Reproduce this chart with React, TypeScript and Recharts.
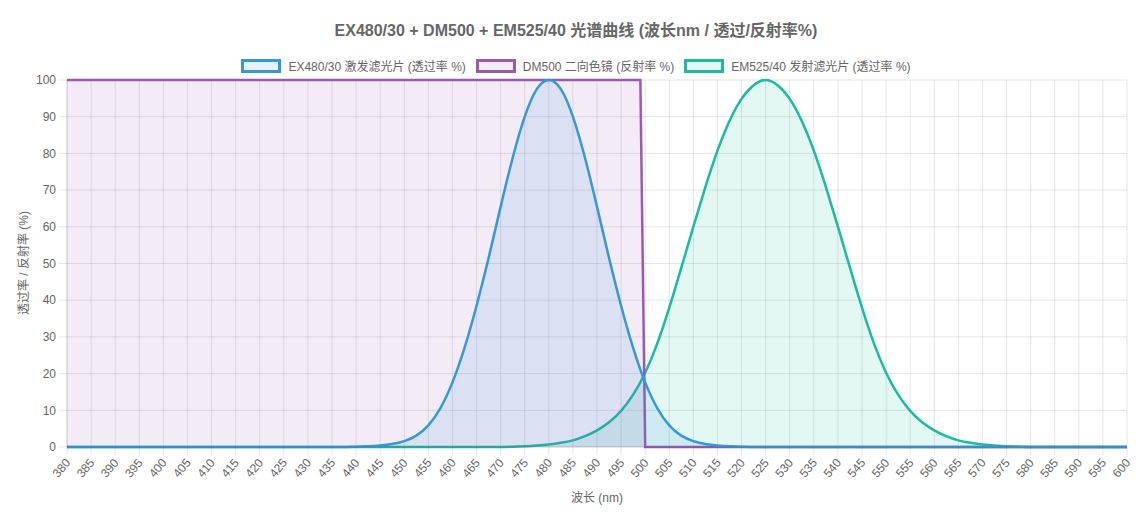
import { ComposedChart, Area, XAxis, YAxis, CartesianGrid } from 'recharts'

// EX480/30 激发滤光片 透过率 %
const exWavelengths = [
  380, 390, 400, 410, 420, 430, 435, 437.5, 440, 442.5, 445, 447.5,
  450, 452.5, 455, 457.5, 460, 462.5, 465, 467.5, 470, 472.5, 475, 477.5, 480, 482.5,
  485, 487.5, 490, 492.5, 495, 497.5, 500, 502.5, 505, 507.5, 510, 512.5, 515, 517.5,
  520, 522.5, 525, 530, 540, 550, 560, 570, 580, 590, 600,
]
const exValues = [
  0, 0, 0, 0, 0, 0, 0, 0, 0.1, 0.2, 0.4, 0.8,
  1.6, 3.1, 5.9, 10.6, 17.6, 27, 38.5, 51.5, 65.5, 78.8, 90, 97.5, 100, 97.5,
  90, 78.8, 65.5, 51.5, 38.5, 27, 17.6, 10.6, 5.9, 3.1, 1.6, 0.8, 0.4, 0.2,
  0.1, 0, 0, 0, 0, 0, 0, 0, 0, 0, 0,
]

// EM525/40 发射滤光片 透过率 %
const emWavelengths = [
  380, 390, 400, 410, 420, 430, 440, 450, 460, 465, 470, 472.5, 475, 477.5,
  480, 482.5, 485, 487.5, 490, 492.5, 495, 497.5, 500, 502.5, 505, 507.5, 510, 512.5,
  515, 517.5, 520, 522.5, 525, 527.5, 530, 532.5, 535, 537.5, 540, 542.5, 545, 547.5,
  550, 552.5, 555, 557.5, 560, 562.5, 565, 567.5, 570, 572.5, 575, 577.5, 580, 585,
  590, 595, 600,
]
const emValues = [
  0, 0, 0, 0, 0, 0, 0, 0, 0, 0, 0, 0.1, 0.2, 0.4,
  0.7, 1.15, 1.8, 2.95, 4.55, 6.75, 9.85, 14.25, 20.25, 28.15, 37.95, 48.85, 60.05, 70.85,
  80.75, 88.85, 94.85, 98.55, 100, 98.55, 94.85, 88.85, 80.75, 70.85, 60.05, 48.85, 37.95, 28.15,
  20.25, 14.25, 9.85, 6.75, 4.55, 2.95, 1.8, 1.15, 0.7, 0.4, 0.2, 0.1, 0, 0,
  0, 0, 0,
]

// DM500 二向色镜 反射率 %
const dmWavelengths = [380, 499, 500, 600]
const dmValues = [100, 100, 0, 0]

const xTicks = [
  380, 385, 390, 395, 400, 405, 410, 415, 420, 425, 430, 435, 440, 445, 450,
  455, 460, 465, 470, 475, 480, 485, 490, 495, 500, 505, 510, 515, 520, 525,
  530, 535, 540, 545, 550, 555, 560, 565, 570, 575, 580, 585, 590, 595, 600,
]
const yTicks = [0, 10, 20, 30, 40, 50, 60, 70, 80, 90, 100]

const FONT = "'Helvetica Neue', Helvetica, Arial, 'Liberation Sans', 'Noto Sans CJK SC', sans-serif"
const GRID = 'rgba(0,0,0,0.1)'

const series = [
  { name: 'EX480/30 激发滤光片 (透过率 %)', color: '#3498db', fill: 'rgba(52,152,219,0.12)' },
  { name: 'DM500 二向色镜 (反射率 %)', color: '#9b59b6', fill: 'rgba(155,89,182,0.12)' },
  { name: 'EM525/40 发射滤光片 (透过率 %)', color: '#1abc9c', fill: 'rgba(26,188,156,0.12)' },
]

const XTick = (props: any) => {
  const { x, y, payload } = props
  const ax = x + 4
  const ay = y + 6
  return (
    <text x={ax} y={ay} transform={`rotate(-50, ${ax}, ${ay})`} textAnchor="end" fill="#666" fontSize={12} fontFamily={FONT}>
      {payload.value}
    </text>
  )
}

export default function App() {
  const exData = exWavelengths.map((nm, i) => ({ nm, v: exValues[i] }))
  const emData = emWavelengths.map((nm, i) => ({ nm, v: emValues[i] }))
  const dmData = dmWavelengths.map((nm, i) => ({ nm, v: dmValues[i] }))

  return (
    <div style={{ position: 'absolute', left: 0, top: 0, width: 1145, height: 516, background: '#fff', fontFamily: FONT }}>
      <div style={{ position: 'absolute', left: 0, width: 1152, top: 17, textAlign: 'center', fontWeight: 'bold', fontSize: 16, color: '#666' }}>
        EX480/30 + DM500 + EM525/40 光谱曲线 (波长nm / 透过/反射率%)
      </div>
      <div style={{ position: 'absolute', left: 0, width: 1152, top: 57, display: 'flex', justifyContent: 'center', fontSize: 12, color: '#666' }}>
        {series.map((s) => (
          <div key={s.name} style={{ display: 'flex', alignItems: 'center', margin: '0 5px' }}>
            <span style={{ display: 'inline-block', width: 34, height: 8, border: `3px solid ${s.color}`, background: s.fill, marginRight: 7 }} />
            <span>{s.name}</span>
          </div>
        ))}
      </div>
      <div style={{ position: 'absolute', left: 22, top: 263, fontSize: 12, color: '#666', transform: 'translate(-50%, -50%) rotate(-90deg)', whiteSpace: 'nowrap' }}>
        透过率 / 反射率 (%)
      </div>
      <div style={{ position: 'absolute', left: 0, width: 1194, top: 488, textAlign: 'center', fontSize: 12, color: '#666' }}>
        波长 (nm)
      </div>
      <div style={{ position: 'absolute', left: 0, top: 0 }}>
        <ComposedChart width={1145} height={516} margin={{ top: 80, right: 18, bottom: 0, left: 0 }}>
          <CartesianGrid stroke={GRID} />
          <XAxis
            type="number"
            dataKey="nm"
            domain={[380, 600]}
            ticks={xTicks}
            interval={0}
            height={69}
            tickSize={8}
            tickLine={{ stroke: GRID }}
            axisLine={{ stroke: GRID }}
            tick={<XTick />}
          />
          <YAxis
            type="number"
            domain={[0, 100]}
            ticks={yTicks}
            interval={0}
            width={67}
            tickSize={8}
            tickMargin={3}
            tickLine={{ stroke: GRID }}
            axisLine={{ stroke: GRID }}
            tick={{ fill: '#666', fontSize: 12, fontFamily: FONT }}
          />
          <Area data={emData} dataKey="v" type="natural" stroke={series[2].color} strokeWidth={2.5} fill={series[2].fill} fillOpacity={1} dot={false} activeDot={false} isAnimationActive={false} />
          <Area data={dmData} dataKey="v" type="linear" stroke={series[1].color} strokeWidth={2.5} fill={series[1].fill} fillOpacity={1} dot={false} activeDot={false} isAnimationActive={false} />
          <Area data={exData} dataKey="v" type="natural" stroke={series[0].color} strokeWidth={2.5} fill={series[0].fill} fillOpacity={1} dot={false} activeDot={false} isAnimationActive={false} />
        </ComposedChart>
      </div>
    </div>
  )
}
